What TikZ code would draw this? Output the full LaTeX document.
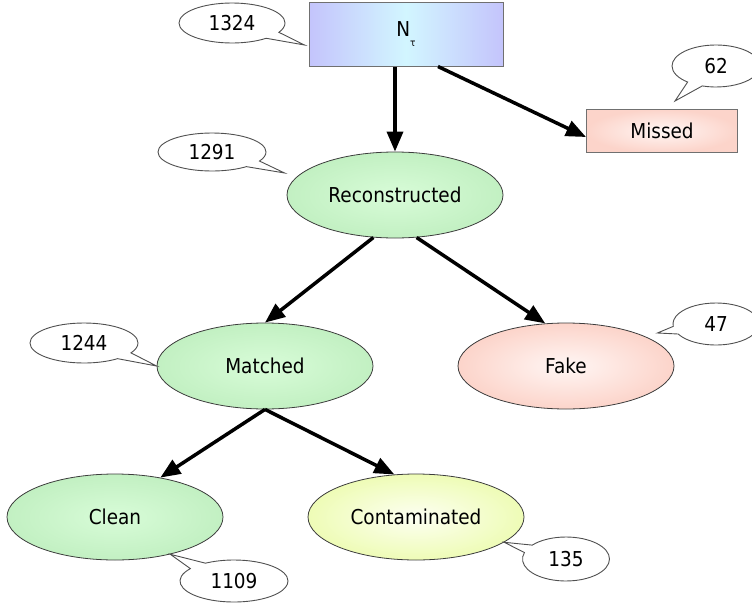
\documentclass[tikz,border=0pt]{standalone}
\usepackage{fontspec}
\setmainfont{DejaVu Sans}[FakeStretch=0.9]
\usetikzlibrary{shapes.geometric,shapes.callouts,arrows.meta,calc}
\definecolor{lav}{HTML}{C4C4FC}
\definecolor{cyanl}{HTML}{D2F6FF}
\definecolor{pinko}{HTML}{FCD4CA}
\definecolor{pinki}{HTML}{FFF6F4}
\definecolor{greeno}{HTML}{C2F0C2}
\definecolor{greeni}{HTML}{D8FCD8}
\definecolor{yello}{HTML}{EEFCB6}
\definecolor{yelli}{HTML}{FDFFF2}
\definecolor{edgegray}{HTML}{707070}
\definecolor{ovalgray}{HTML}{3C3C3C}
\definecolor{bubblegray}{HTML}{505050}
\begin{document}
\begin{tikzpicture}[x=1pt,y=-1pt,
  font=\fontsize{20.5}{24}\selectfont,
  boxnode/.style={rectangle,draw=edgegray,line width=1pt,inner sep=0pt},
  ovalnode/.style={ellipse,draw=ovalgray,line width=0.8pt,inner sep=0pt,
    minimum width=216pt,minimum height=86pt},
  greenoval/.style={ovalnode,inner color=greeni,outer color=greeno},
  bubble/.style={ellipse callout,draw=bubblegray,line width=0.9pt,fill=white,
    inner sep=0pt,callout pointer arc=22},
  arr/.style={line width=3.5pt,-{Triangle[length=20pt,width=16pt]}}
]
\useasboundingbox (0,0) rectangle (752,605);
\clip (0,0) rectangle (752,605);

% main nodes
\node[boxnode,minimum width=194pt,minimum height=64pt,
  left color=lav,right color=lav,middle color=cyanl] (N) at (406,34)
  {N\raisebox{-10pt}{\fontsize{10}{10}\selectfont τ}};
\node[boxnode,minimum width=151pt,minimum height=43pt,
  inner color=pinki,outer color=pinko] (missed) at (662,131) {Missed};
\node[greenoval] (reco) at (395,195) {Reconstructed};
\node[greenoval] (matched) at (265,366) {Matched};
\node[ovalnode,inner color=pinki,outer color=pinko] (fake) at (566,366) {Fake};
\node[greenoval] (clean) at (115,517) {Clean};
\node[ovalnode,inner color=yelli,outer color=yello] (cont) at (416,517) {Contaminated};

% arrows
\draw[arr] (N.south -| reco.north) -- (reco.north);
\draw[arr] ($(N.south)+(32,0)$) -- ($(missed.west)+(0,6)$);
\draw[arr] (reco.243) -- (matched.north);
\draw[arr] (reco.297) -- (fake.116);
\draw[arr] (matched.south) -- (clean.41);
\draw[arr] (matched.south) -- (cont.117);

% count bubbles
\node[bubble,minimum width=106pt,minimum height=40pt,
  callout absolute pointer={($(N.west)+(-4,11)$)}] (b1324) at (232,23) {1324};
\node[bubble,minimum width=88pt,minimum height=42pt,
  callout absolute pointer={($(missed.north)+(13,-8)$)}] (b62) at (716,66) {62};
\node[bubble,minimum width=108pt,minimum height=38pt,
  callout absolute pointer={($(reco.west)+(-2,-22)$)}] (b1291) at (212,152) {1291};
\node[bubble,minimum width=108pt,minimum height=40pt,
  callout absolute pointer={(matched.west)}] (b1244) at (84,343) {1244};
\node[bubble,minimum width=86pt,minimum height=42pt,
  callout absolute pointer={($(fake.east)+(-17,-33)$)}] (b47) at (716,324) {47};
\node[bubble,minimum width=108pt,minimum height=42pt,
  callout absolute pointer={(clean.326)}] (b1109) at (234,581) {1109};
\node[bubble,minimum width=87pt,minimum height=44pt,
  callout absolute pointer={(cont.344)}] (b135) at (566,559) {135};
\end{tikzpicture}
\end{document}
